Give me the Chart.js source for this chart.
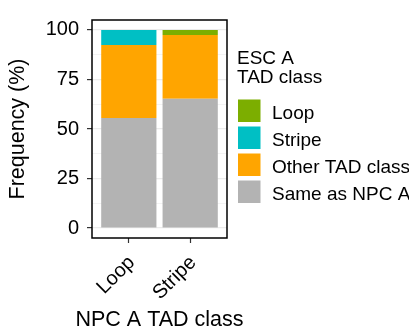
<!DOCTYPE html>
<html>
<head>
<meta charset="utf-8">
<script src="https://cdn.jsdelivr.net/npm/chart.js@4.4.0/dist/chart.umd.min.js"></script>
<style>
  html, body { margin: 0; padding: 0; background: #fff; }
  #wrap { width: 409px; height: 329px; }
</style>
</head>
<body>
<div id="wrap"><canvas id="myChart" width="409" height="329"></canvas></div>
<script>
const categorias = ['Loop', 'Stripe'];
const sameAsNpc = [55.6, 65.3];
const otherTad = [36.8, 32.1];
const stripeVals = [7.6, 0];
const loopVals = [0, 2.6];
const yTicks = [0, 25, 50, 75, 100];
const yMinor = [12.5, 37.5, 62.5, 87.5];
const legendTitle = ['ESC A', 'TAD class'];
const xTitle = 'NPC A TAD class';

const fonte = '"Liberation Sans", Arial, Helvetica, sans-serif';

const pontos = valores => valores.map((v, i) => ({ x: i + 1, y: v }));

const data = {
    datasets: [
        { label: 'Same as NPC A', data: pontos(sameAsNpc), backgroundColor: '#B3B3B3' },
        { label: 'Other TAD class', data: pontos(otherTad), backgroundColor: '#FFA500' },
        { label: 'Stripe', data: pontos(stripeVals), backgroundColor: '#00BFC4' },
        { label: 'Loop', data: pontos(loopVals), backgroundColor: '#7CAE00' }
    ]
};

// moldura preta em volta do painel + título do eixo x (o do chart.js é espremido na largura do eixo)
const moldura = {
    id: 'moldura',
    afterDatasetsDraw(chart) {
        const { ctx, chartArea: a } = chart;
        ctx.save();
        ctx.strokeStyle = '#000';
        ctx.lineWidth = 1.5;
        ctx.strokeRect(a.left, a.top, a.right - a.left, a.bottom - a.top);
        ctx.font = '21.5px ' + fonte;
        ctx.fillStyle = '#000';
        ctx.textAlign = 'center';
        ctx.textBaseline = 'alphabetic';
        ctx.fillText(xTitle, (a.left + a.right) / 2, 325.5);
        ctx.restore();
    }
};

// legenda à direita, no estilo do ggplot (ordem invertida da pilha)
const legendaLateral = {
    id: 'legendaLateral',
    afterDraw(chart) {
        const ctx = chart.ctx;
        ctx.save();
        ctx.font = '19px ' + fonte;
        ctx.fillStyle = '#000';
        ctx.textBaseline = 'alphabetic';
        legendTitle.forEach((t, i) => ctx.fillText(t, 237, 63.5 + i * 19.5));
        chart.data.datasets.slice().reverse().forEach((ds, i) => {
            const y = 99.5 + i * 27;
            ctx.fillStyle = ds.backgroundColor;
            ctx.fillRect(238, y, 22.5, 22.5);
            ctx.fillStyle = '#000';
            ctx.fillText(ds.label, 272, y + 19);
        });
        ctx.restore();
    }
};

const config = {
    type: 'bar',
    data: data,
    options: {
        responsive: false,
        devicePixelRatio: 1,
        animation: false,
        layout: { padding: { left: 0, right: 182, top: 11, bottom: 0 } },
        datasets: { bar: { barPercentage: 0.9, categoryPercentage: 1.0, borderWidth: 0 } },
        scales: {
            x: {
                type: 'linear',
                stacked: true,
                min: 0.4,
                max: 2.6,
                offset: false,
                afterBuildTicks: s => { s.ticks = categorias.map((c, i) => ({ value: i + 1 })); },
                afterFit: s => { s.height = 91; },
                ticks: {
                    callback: v => categorias[v - 1],
                    autoSkip: false,
                    maxRotation: 45,
                    minRotation: 45,
                    color: '#000',
                    padding: 8,
                    labelOffset: 3,
                    font: { family: fonte, size: 20 }
                },
                grid: { offset: false, drawOnChartArea: false, tickColor: '#333', tickLength: 5, tickWidth: 1.2 },
                border: { display: false }
            },
            y: {
                stacked: true,
                min: -5,
                max: 105,
                afterBuildTicks: s => {
                    s.ticks = yTicks.concat(yMinor).sort((a, b) => a - b).map(v => ({ value: v }));
                },
                afterFit: s => { s.width = 92; },
                ticks: {
                    callback: v => yTicks.includes(v) ? String(v) : '',
                    autoSkip: false,
                    color: '#000',
                    padding: 8,
                    font: { family: fonte, size: 20 }
                },
                grid: {
                    color: '#EBEBEB',
                    lineWidth: c => yTicks.includes(c.tick.value) ? 1.2 : 0.6,
                    tickColor: c => yTicks.includes(c.tick.value) ? '#333' : 'rgba(0,0,0,0)',
                    tickLength: 5,
                    tickWidth: 1.2
                },
                border: { display: false },
                title: {
                    display: true,
                    text: 'Frequency (%)',
                    color: '#000',
                    padding: { top: 5, bottom: 0 },
                    font: { family: fonte, size: 21.5 }
                }
            }
        },
        plugins: {
            legend: { display: false },
            tooltip: { enabled: false }
        }
    },
    plugins: [moldura, legendaLateral]
};

const myChart = new Chart(document.getElementById('myChart'), config);
</script>
</body>
</html>
